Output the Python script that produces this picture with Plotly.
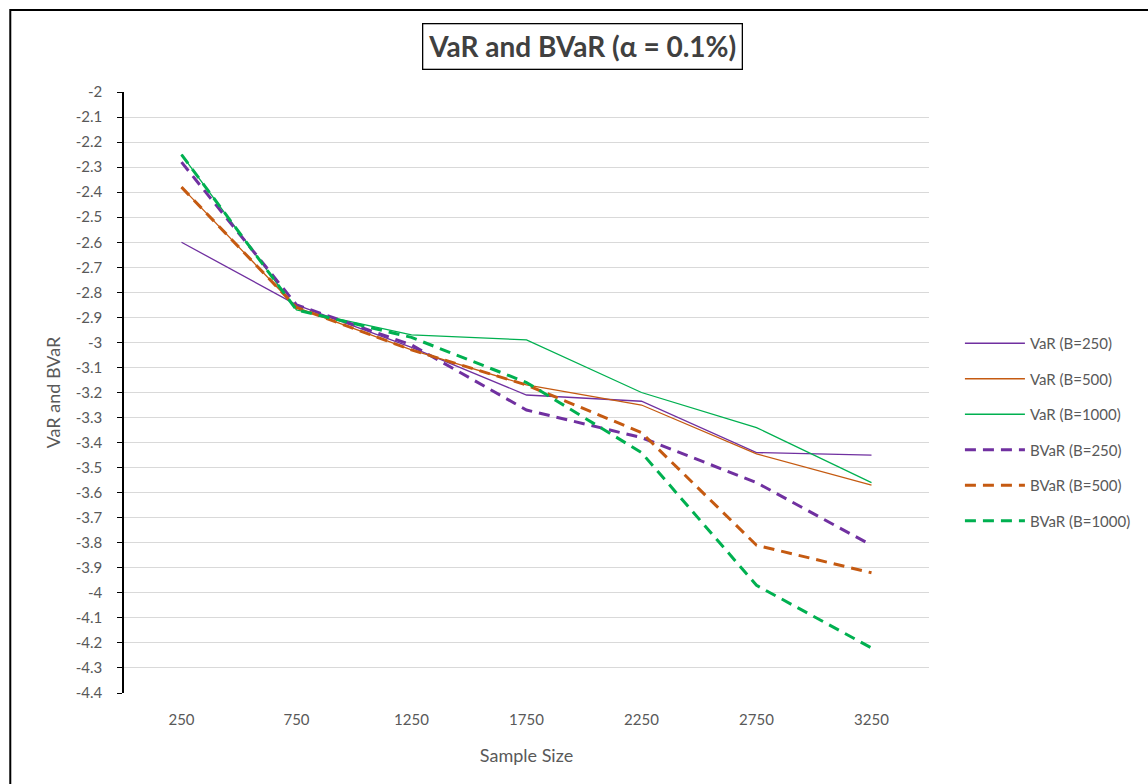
import plotly.graph_objects as go

# Sample sizes (category axis)
sample_sizes = ["250", "750", "1250", "1750", "2250", "2750", "3250"]

# VaR estimates
var_b250 = [-2.60, -2.85, -3.02, -3.21, -3.235, -3.44, -3.45]
var_b500 = [-2.38, -2.86, -3.03, -3.17, -3.25, -3.445, -3.57]
var_b1000 = [-2.25, -2.87, -2.97, -2.99, -3.20, -3.34, -3.56]

# BVaR estimates
bvar_b250 = [-2.28, -2.85, -3.01, -3.27, -3.38, -3.56, -3.81]
bvar_b500 = [-2.38, -2.86, -3.03, -3.17, -3.36, -3.81, -3.92]
bvar_b1000 = [-2.25, -2.87, -2.98, -3.16, -3.44, -3.97, -4.22]

series_names = ["VaR (B=250)", "VaR (B=500)", "VaR (B=1000)",
                "BVaR (B=250)", "BVaR (B=500)", "BVaR (B=1000)"]

# y-axis ticks from -2 down to -4.4
y_tick_vals = [round(-2 - 0.1 * i, 1) for i in range(25)]
y_tick_text = [("%g" % v) for v in y_tick_vals]

PURPLE = "#7030A0"
ORANGE = "#C55A11"
GREEN = "#00B050"
FONT = "Lato, Liberation Sans, sans-serif"
GREY_TXT = "#595959"
DASH = "11px,7px"

fig = go.Figure()
series = [
    (var_b250, PURPLE, "solid", 1.3),
    (var_b500, ORANGE, "solid", 1.3),
    (var_b1000, GREEN, "solid", 1.3),
    (bvar_b250, PURPLE, DASH, 3),
    (bvar_b500, ORANGE, DASH, 3),
    (bvar_b1000, GREEN, DASH, 3),
]
for i, (vals, color, dash, width) in enumerate(series):
    fig.add_trace(go.Scatter(
        x=sample_sizes, y=vals, mode="lines", name=series_names[i],
        legendgroup=f"g{i}",
        line=dict(color=color, dash=dash, width=width),
    ))

L, R, T, B = 124, 217, 92, 91
W, H = 1148, 784
pw, ph = W - L - R, H - T - B


def px_x(x):
    return (x - L) / pw


def px_y(y):
    return (H - B - y) / ph


fig.update_layout(
    width=W, height=H,
    margin=dict(l=L, r=R, t=T, b=B),
    paper_bgcolor="white", plot_bgcolor="white",
    font=dict(family=FONT, color=GREY_TXT, size=15),
    showlegend=True,
    legend=dict(
        x=px_x(962), y=px_y(327), xanchor="left", yanchor="top",
        font=dict(size=15, color=GREY_TXT),
        itemwidth=60, tracegroupgap=13,
        bgcolor="rgba(0,0,0,0)",
    ),
    xaxis=dict(
        type="category", range=[-0.5, 6.5],
        showgrid=False, zeroline=False, showline=False,
        ticks="", tickfont=dict(size=15, color=GREY_TXT),
        title=dict(text="Sample Size", font=dict(size=18, color=GREY_TXT), standoff=22),
        ticklabelstandoff=16,
    ),
    yaxis=dict(
        range=[-4.4, -2], tickvals=y_tick_vals, ticktext=y_tick_text,
        showgrid=True, gridcolor="#D9D9D9", gridwidth=1.3, zeroline=False,
        showline=True, linecolor="black", linewidth=1.5,
        ticks="outside", ticklen=5, tickcolor="black",
        tickfont=dict(size=15, color=GREY_TXT), ticklabelstandoff=12,
        title=dict(text="VaR and BVaR", font=dict(size=18, color=GREY_TXT), standoff=10),
    ),
    shapes=[
        dict(type="rect", xref="paper", yref="paper",
             x0=px_x(10), x1=px_x(1160), y0=px_y(800), y1=px_y(10),
             line=dict(color="black", width=2), fillcolor="rgba(0,0,0,0)", layer="below"),
    ],
    annotations=[
        dict(text="<b>VaR and BVaR (α = 0.1%)</b>", xref="paper", yref="paper",
             x=px_x(584), y=px_y(46), xanchor="center", yanchor="middle",
             showarrow=False, font=dict(size=28, color="#404040", family=FONT),
             bordercolor="black", borderwidth=1.3, borderpad=5, bgcolor="white"),
    ],
)

fig.write_html("out.html")
